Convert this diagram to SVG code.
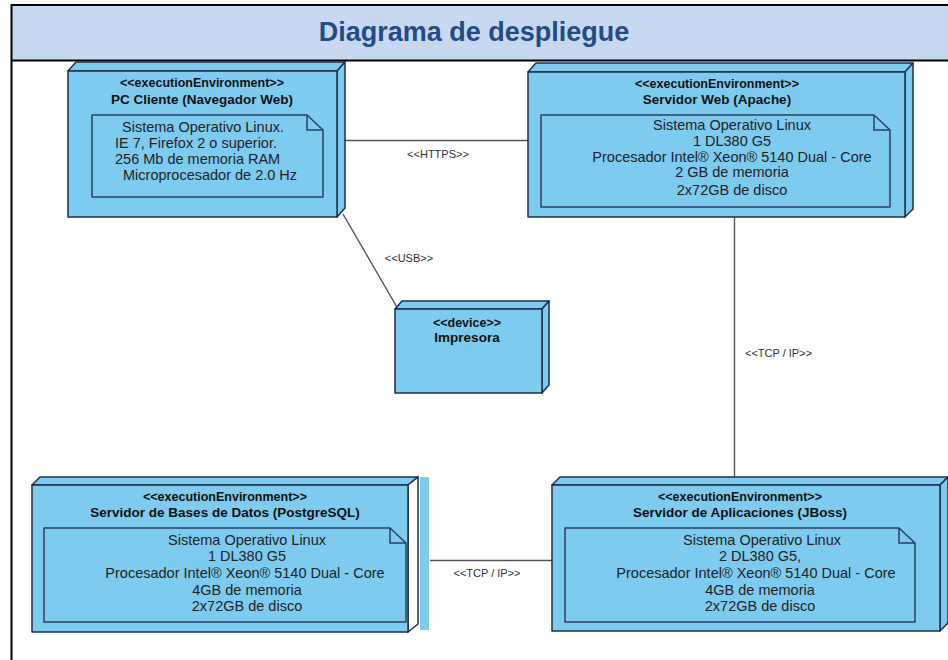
<svg xmlns="http://www.w3.org/2000/svg" width="948" height="660" viewBox="0 0 948 660">
<defs>
<style>
.frame{fill:none;stroke:#000;stroke-width:2}
.face{fill:#7DCCF0;stroke:#1E2F4A;stroke-width:1.5;stroke-linejoin:round}
.white{fill:#FFFFFF;stroke:#1E2F4A;stroke-width:1.5}
.note{fill:#7DCCF0;stroke:#2A3F5F;stroke-width:1.5;stroke-linejoin:round}
.fold{fill:none;stroke:#2A3F5F;stroke-width:1.5}
.conn{stroke:#555;stroke-width:1.4;fill:none}
.st{font-family:"Liberation Sans",Arial,sans-serif;font-weight:bold;font-size:12.5px;fill:#111;text-anchor:middle}
.nm{font-family:"Liberation Sans",Arial,sans-serif;font-weight:bold;font-size:13.5px;fill:#111;text-anchor:middle}
.tx{font-family:"Liberation Sans",Arial,sans-serif;font-size:14.5px;fill:#222}
.c{text-anchor:middle}
.lbl{font-family:"Liberation Sans",Arial,sans-serif;font-size:11px;fill:#333}
.title{font-family:"Liberation Sans",Arial,sans-serif;font-weight:bold;font-size:27px;fill:#224C86;text-anchor:middle}
</style>
</defs>
<rect x="0" y="0" width="948" height="660" fill="#FFFFFF"/>
<g id="frame">
<rect x="12" y="5" width="936" height="55" fill="#C6D9F1"/>
<line class="frame" x1="11" y1="5" x2="948" y2="5"/>
<line class="frame" x1="11" y1="60.5" x2="948" y2="60.5"/>
<line class="frame" x1="11.5" y1="4" x2="11.5" y2="660"/>
<text class="title" x="474" y="41">Diagrama de despliegue</text>
</g>
<g id="connectors">
<line class="conn" x1="345" y1="140.5" x2="528" y2="140.5"/>
<text class="lbl" x="438" y="158" text-anchor="middle">&lt;&lt;HTTPS&gt;&gt;</text>
<line class="conn" x1="343" y1="214" x2="398" y2="309"/>
<text class="lbl" x="409" y="262" text-anchor="middle">&lt;&lt;USB&gt;&gt;</text>
<line class="conn" x1="734.5" y1="217" x2="734.5" y2="477"/>
<text class="lbl" x="745" y="357">&lt;&lt;TCP / IP&gt;&gt;</text>
<line class="conn" x1="430" y1="560.5" x2="552" y2="560.5"/>
<text class="lbl" x="487" y="577" text-anchor="middle">&lt;&lt;TCP / IP&gt;&gt;</text>
</g>
<g id="pc-cliente">
<path class="face" d="M68,71 L76,62 L345,62 L337,71 Z"/>
<path class="face" d="M337,71 L345,62 L345,208 L337,217 Z"/>
<rect class="face" x="68" y="71" width="269" height="146"/>
<text class="st" x="202" y="87">&lt;&lt;executionEnvironment&gt;&gt;</text>
<text class="nm" x="202" y="104">PC Cliente (Navegador Web)</text>
<path class="note" d="M92,115 H307 L323,130 V197 H92 Z"/>
<path class="fold" d="M307,115 V130 H323"/>
<text class="tx" x="122" y="132">Sistema Operativo Linux.</text>
<text class="tx" x="115" y="148">IE 7, Firefox 2 o superior.</text>
<text class="tx" x="115" y="164">256 Mb de memoria RAM</text>
<text class="tx" x="123" y="180">Microprocesador de 2.0 Hz</text>
</g>
<g id="servidor-web">
<path class="face" d="M528,72 L536,63 L913,63 L905,72 Z"/>
<path class="face" d="M905,72 L913,63 L913,209 L905,217 Z"/>
<rect class="face" x="528" y="72" width="377" height="145"/>
<text class="st" x="717" y="88">&lt;&lt;executionEnvironment&gt;&gt;</text>
<text class="nm" x="717" y="104">Servidor Web (Apache)</text>
<path class="note" d="M541,115 H874 L890,130 V207 H541 Z"/>
<path class="fold" d="M874,115 V130 H890"/>
<text class="tx c" x="732" y="130">Sistema Operativo Linux</text>
<text class="tx c" x="732" y="146">1 DL380 G5</text>
<text class="tx c" x="732" y="162">Procesador Intel® Xeon® 5140 Dual - Core</text>
<text class="tx c" x="732" y="177">2 GB de memoria</text>
<text class="tx c" x="732" y="195">2x72GB de disco</text>
</g>
<g id="impresora">
<path class="face" d="M395,309 L402,301 L549,301 L542,309 Z"/>
<path class="face" d="M542,309 L549,301 L549,385 L542,393 Z"/>
<rect class="face" x="395" y="309" width="147" height="84"/>
<text class="st" x="467" y="327">&lt;&lt;device&gt;&gt;</text>
<text class="nm" x="467" y="342">Impresora</text>
</g>
<g id="servidor-bd">
<rect x="420" y="477" width="9" height="153" fill="#7DCCF0"/>
<path class="face" d="M32,485 L40,477 L418,477 L408,485 Z"/>
<path class="white" d="M408,485 L418,477 L418,624 L408,632 Z"/>
<rect class="face" x="32" y="485" width="376" height="147"/>
<text class="st" x="225" y="501">&lt;&lt;executionEnvironment&gt;&gt;</text>
<text class="nm" x="225" y="517">Servidor de Bases de Datos (PostgreSQL)</text>
<path class="note" d="M44,528 H390 L406,543 V622 H44 Z"/>
<path class="fold" d="M390,528 V543 H406"/>
<text class="tx c" x="247" y="545">Sistema Operativo Linux</text>
<text class="tx c" x="247" y="561">1 DL380 G5</text>
<text class="tx c" x="245" y="578">Procesador Intel® Xeon® 5140 Dual - Core</text>
<text class="tx c" x="247" y="595">4GB de memoria</text>
<text class="tx c" x="247" y="611">2x72GB de disco</text>
</g>
<g id="servidor-aplicaciones">
<path class="face" d="M552,485 L560,477 L948,477 L940,485 Z"/>
<path class="face" d="M940,485 L948,477 L948,623 L940,631 Z"/>
<rect class="face" x="552" y="485" width="388" height="146"/>
<text class="st" x="740" y="501">&lt;&lt;executionEnvironment&gt;&gt;</text>
<text class="nm" x="740" y="517">Servidor de Aplicaciones (JBoss)</text>
<path class="note" d="M565,528 H899 L915,543 V622 H565 Z"/>
<path class="fold" d="M899,528 V543 H915"/>
<text class="tx c" x="762" y="545">Sistema Operativo Linux</text>
<text class="tx c" x="760" y="561">2 DL380 G5,</text>
<text class="tx c" x="756" y="578">Procesador Intel® Xeon® 5140 Dual - Core</text>
<text class="tx c" x="760" y="595">4GB de memoria</text>
<text class="tx c" x="760" y="611">2x72GB de disco</text>
</g>
</svg>
